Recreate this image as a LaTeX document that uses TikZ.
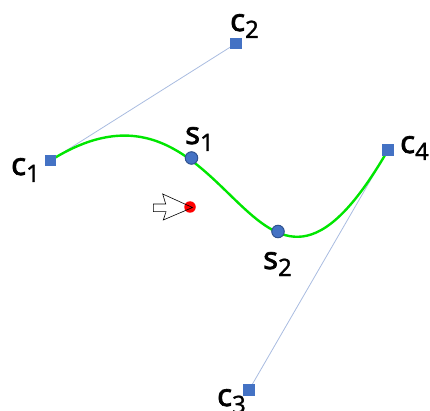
\documentclass[tikz,border=0pt]{standalone}
\usepackage{fontspec}
\setmainfont{Noto Sans}
\newfontfamily\labbig[FakeBold=2.2]{Noto Sans}
\newfontfamily\labsub[FakeBold=1]{Noto Sans}
\usetikzlibrary{backgrounds}
\tikzset{
  ctrl/.style={draw=none,fill=ctrlblue,minimum size=11.5pt,inner sep=0pt,shape=rectangle},
  sample/.style={draw=ctrledge,line width=1pt,fill=ctrlblue,minimum size=12.5pt,inner sep=0pt,shape=circle},
  probe/.style={fill=red,minimum size=11.5pt,inner sep=0pt,shape=circle},
  lab/.style={inner sep=0pt,anchor=base west},
  hull/.style={draw=hullblue,line width=0.8pt},
  curve/.style={draw=curvegreen,line width=2.4pt},
  pointer/.style={draw=black,line width=0.6pt,line join=miter}
}
\definecolor{ctrlblue}{HTML}{4472C4}
\definecolor{ctrledge}{HTML}{2F528F}
\definecolor{hullblue}{HTML}{A9BCE0}
\definecolor{curvegreen}{HTML}{00E600}
\newcommand{\lbl}[2]{{\labbig\fontsize{31}{31}\selectfont #1}\raisebox{-7pt}{\labsub\fontsize{24}{24}\selectfont #2}}
\begin{document}
\begin{tikzpicture}[x=1pt,y=-1pt]
\useasboundingbox (0,0) rectangle (430,411);
\node[ctrl] (c1) at (50.5,160.5) {};
\node[ctrl] (c2) at (236,43.5) {};
\node[ctrl] (c3) at (249,390) {};
\node[ctrl] (c4) at (388,150) {};
\node[sample] (s1) at (191.5,158) {};
\node[sample] (s2) at (278,231.5) {};
\begin{pgfonlayer}{background}
\draw[hull] (c1.center) -- (c2.center);
\draw[hull] (c3.center) -- (c4.center);
\draw[curve] (c1.center) .. controls (c2.center) and (c3.center) .. (c4.center);
\end{pgfonlayer}
\fill[white] (153.3,204) -- (165.7,204) -- (162.7,194) -- (192.5,207.5) -- (163.3,220) -- (166,211.7) -- (153.3,211.7) -- cycle;
\node[probe] (p) at (190,207) {};
\draw[pointer] (153.3,204) -- (165.7,204) -- (162.7,194) -- (192.5,207.5) -- (163.3,220) -- (166,211.7) -- (153.3,211.7) -- cycle;
\node[lab] (lc1) at (11,175) {\lbl{c}{1}};
\node[lab] (lc2) at (230,31) {\lbl{c}{2}};
\node[lab] (lc3) at (217,406) {\lbl{c}{3}};
\node[lab] (lc4) at (400,153) {\lbl{c}{4}};
\node[lab] (ls1) at (185,144) {\lbl{s}{1}};
\node[lab] (ls2) at (263,269) {\lbl{s}{2}};
\end{tikzpicture}
\end{document}
